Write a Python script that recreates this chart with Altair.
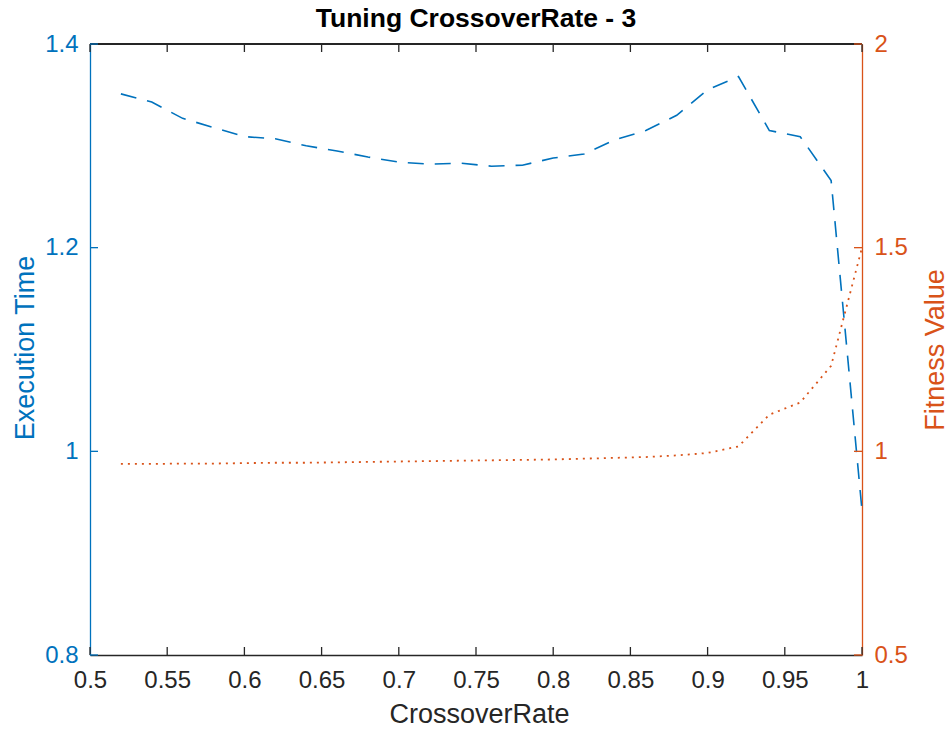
import altair as alt
import pandas as pd

# ---- data ----
crossover_rate = [0.52, 0.54, 0.56, 0.58, 0.60, 0.62, 0.64, 0.66, 0.68, 0.70,
                  0.72, 0.74, 0.76, 0.78, 0.80, 0.82, 0.84, 0.86, 0.88, 0.90,
                  0.92, 0.94, 0.96, 0.98, 1.00]
execution_time = [1.351, 1.343, 1.327, 1.318, 1.309, 1.307, 1.300, 1.295, 1.289, 1.284,
                  1.282, 1.283, 1.280, 1.281, 1.288, 1.292, 1.306, 1.315, 1.330, 1.355,
                  1.368, 1.315, 1.309, 1.266, 0.942]
fitness_value = [0.969, 0.969, 0.970, 0.970, 0.971, 0.972, 0.972, 0.973, 0.974, 0.975,
                 0.976, 0.977, 0.978, 0.979, 0.980, 0.982, 0.984, 0.986, 0.990, 0.996,
                 1.012, 1.090, 1.120, 1.210, 1.500]
x_ticks = [0.5, 0.55, 0.6, 0.65, 0.7, 0.75, 0.8, 0.85, 0.9, 0.95, 1.0]
left_ticks = [0.8, 1.0, 1.2, 1.4]
right_ticks = [0.5, 1.0, 1.5, 2.0]

W, H = 772, 611
BLUE = "#0072BD"
ORANGE = "#D95319"
DARK = "#262626"
FONT = "Liberation Sans"
TICK = 8
LABEL_SIZE = 24
TITLE_SIZE = 27

df = pd.DataFrame({"CrossoverRate": crossover_rate,
                   "ExecutionTime": execution_time,
                   "FitnessValue": fitness_value})
xdf = pd.DataFrame({"CrossoverRate": x_ticks})
ldf = pd.DataFrame({"v": left_ticks})
rdf = pd.DataFrame({"v": right_ticks})

xscale = alt.Scale(domain=[0.5, 1.0], nice=False, zero=False)
lscale = alt.Scale(domain=[0.8, 1.4], nice=False, zero=False)
rscale = alt.Scale(domain=[0.5, 2.0], nice=False, zero=False)

x_axis = alt.Axis(values=x_ticks, format="~g", ticks=False, grid=False,
                  domainColor=DARK, domainWidth=1.3, labelColor=DARK,
                  labelFont=FONT, labelFontSize=LABEL_SIZE, labelPadding=13,
                  labelFlush=False, labelOverlap=False,
                  title="CrossoverRate", titleFont=FONT, titleFontSize=TITLE_SIZE,
                  titleFontWeight="normal", titleColor=DARK,
                  titleX=W / 2 + 3, titleY=67, titleBaseline="alphabetic",
                  titleAlign="center")
left_axis = alt.Axis(orient="left", values=left_ticks, format="~g", ticks=False,
                     grid=False, domainColor=BLUE, domainWidth=1.3,
                     labelColor=BLUE, labelFont=FONT, labelFontSize=LABEL_SIZE,
                     labelPadding=12, labelFlush=False, labelOverlap=False,
                     title="Execution Time", titleFont=FONT, titleFontSize=TITLE_SIZE,
                     titleFontWeight="normal", titleColor=BLUE,
                     titleAngle=270, titleX=-57, titleY=H / 2 - 2,
                     titleBaseline="alphabetic", titleAlign="center")
right_axis = alt.Axis(orient="right", values=right_ticks, format="~g", ticks=False,
                      grid=False, domainColor=ORANGE, domainWidth=1.3,
                      labelColor=ORANGE, labelFont=FONT, labelFontSize=LABEL_SIZE,
                      labelPadding=12, labelFlush=False, labelOverlap=False,
                      title="Fitness Value", titleFont=FONT, titleFontSize=TITLE_SIZE,
                      titleFontWeight="normal", titleColor=ORANGE,
                      titleAngle=270, titleX=81, titleY=H / 2,
                      titleBaseline="alphabetic", titleAlign="center")

X = alt.X("CrossoverRate:Q", scale=xscale, axis=x_axis)

blue_line = alt.Chart(df).mark_line(color=BLUE, strokeWidth=1.6,
                                    strokeDash=[16, 11]).encode(
    x=X,
    y=alt.Y("ExecutionTime:Q", scale=lscale, axis=left_axis),
)
orange_line = alt.Chart(df).mark_line(color=ORANGE, strokeWidth=1.8,
                                      strokeDash=[2, 5]).encode(
    x=X,
    y=alt.Y("FitnessValue:Q", scale=rscale, axis=right_axis),
)

bottom_ticks = alt.Chart(xdf).mark_rule(color=DARK, strokeWidth=1.3).encode(
    x=X, y=alt.value(H), y2=alt.value(H - TICK))
top_ticks = alt.Chart(xdf).mark_rule(color=DARK, strokeWidth=1.3).encode(
    x=X, y=alt.value(0), y2=alt.value(TICK))
top_border = alt.Chart(xdf).mark_rule(color=DARK, strokeWidth=1.5).encode(
    x=alt.value(0), x2=alt.value(W), y=alt.value(0))
left_tick_marks = alt.Chart(ldf).mark_rule(color=BLUE, strokeWidth=1.3).encode(
    y=alt.Y("v:Q", scale=lscale, axis=None),
    x=alt.value(0), x2=alt.value(TICK))
right_tick_marks = alt.Chart(rdf).mark_rule(color=ORANGE, strokeWidth=1.3).encode(
    y=alt.Y("v:Q", scale=rscale, axis=None),
    x=alt.value(W - TICK), x2=alt.value(W))

chart = alt.layer(
    blue_line, orange_line, bottom_ticks, top_ticks, top_border,
    left_tick_marks, right_tick_marks,
).resolve_scale(y="independent").properties(
    width=W, height=H,
    title=alt.TitleParams("Tuning CrossoverRate - 3", font=FONT, fontSize=26.5,
                          fontWeight="bold", color="#000000", anchor="middle",
                          frame="group", offset=-21, baseline="alphabetic"),
    autosize=alt.AutoSizeParams(type="none"),
    padding={"left": 90, "top": 44, "right": 89, "bottom": 74},
    background="white",
).configure_view(stroke=None)

chart.save("out.html", embed_options={"renderer": "svg", "actions": False})
